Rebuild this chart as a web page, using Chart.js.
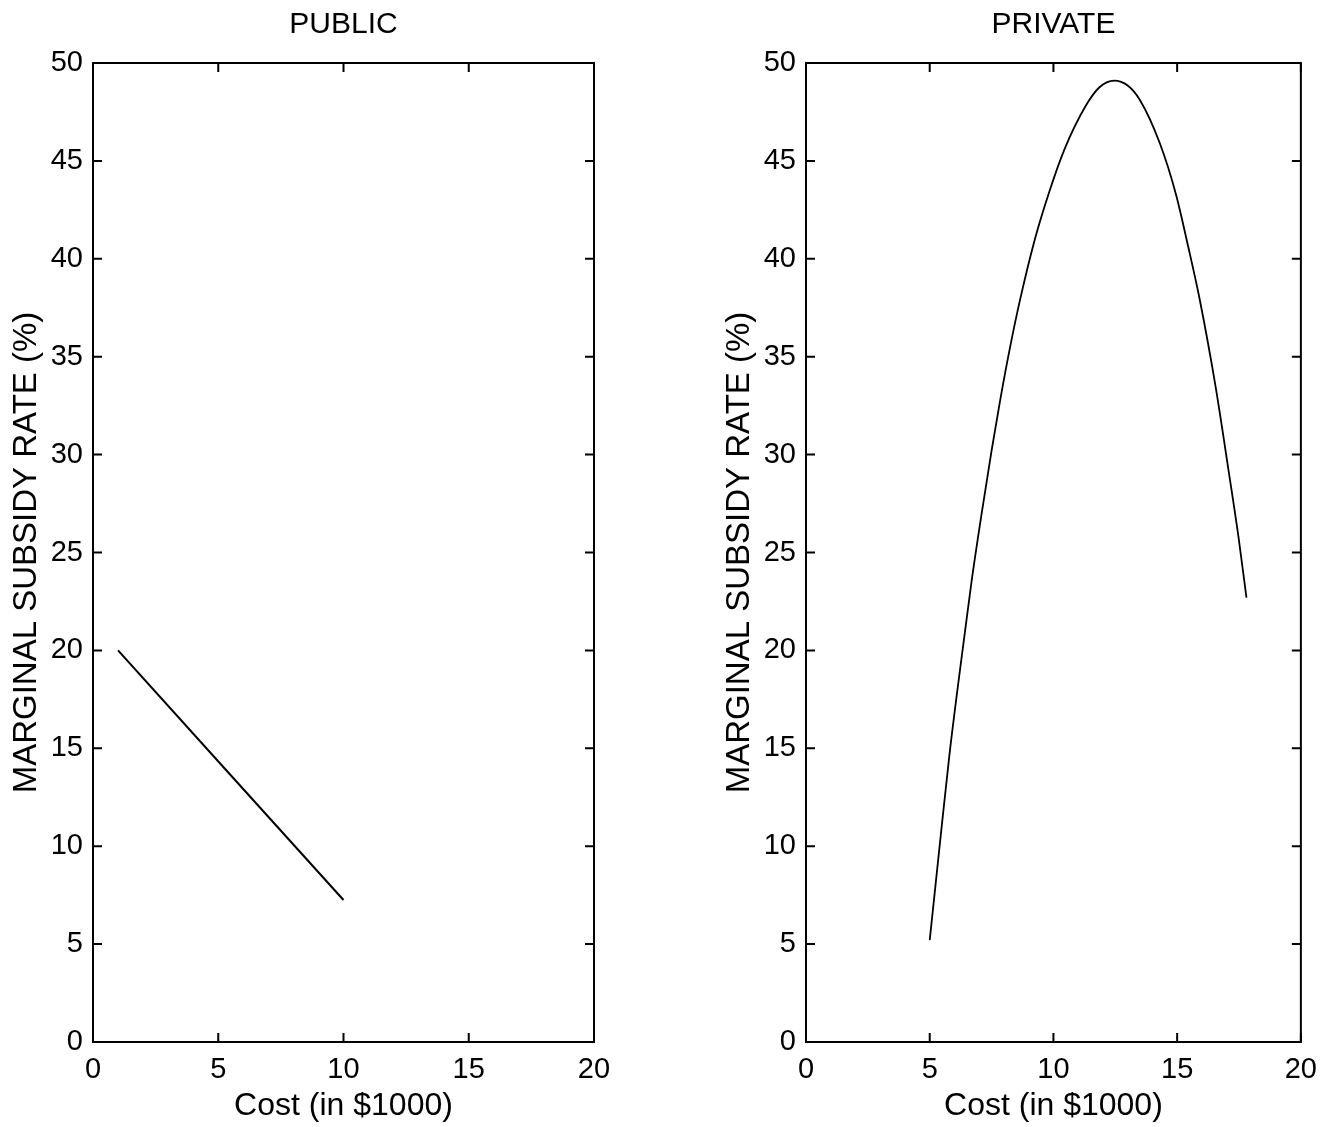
<!DOCTYPE html>
<html>
<head>
<meta charset="utf-8">
<title>Marginal subsidy rate</title>
<script src="https://cdn.jsdelivr.net/npm/chart.js@4.4.1/dist/chart.umd.min.js"></script>
<style>
    body{ margin:0; background:#fff; }
    canvas{ position:absolute; top:0; }
    #publicChart{ left:0; }
    #privateChart{ left:713px; }
</style>
</head>
<body>
<canvas id="publicChart" width="664" height="1127"></canvas>
<canvas id="privateChart" width="615" height="1127"></canvas>
<script>
// axis setup
let xTicks = [0, 5, 10, 15, 20];
let yTicks = [0, 5, 10, 15, 20, 25, 30, 35, 40, 45, 50];

// PUBLIC: straight line
let publicCost = [1, 10];
let publicRate = [20, 7.25];

// PRIVATE: curve
let privateCost = [5.0, 5.4, 5.8, 6.45, 6.7, 7.1, 7.5, 7.85, 8.25, 8.65, 9.25, 9.8, 10.45, 11.3, 11.85, 12.45, 13.0, 13.5, 14.3, 14.95, 15.45, 15.9, 16.55, 17.1, 17.5, 17.8];
let privateRate = [5.2, 10.0, 14.7, 21.2, 23.6, 27.0, 30.2, 32.8, 35.5, 37.9, 41.0, 43.3, 45.6, 47.8, 48.75, 49.1, 48.85, 48.1, 45.9, 43.3, 40.6, 38.0, 33.5, 29.0, 25.6, 22.7];

const FONT = "'Liberation Sans', Arial, Helvetica, sans-serif";

// box round the plot + inward tick marks on all four sides
const frameTicks = {
    id: 'frameTicks',
    afterDraw(chart){
        const ctx = chart.ctx;
        const a = chart.chartArea;
        const x = chart.scales.x;
        const y = chart.scales.y;
        const len = 9;
        ctx.save();
        ctx.strokeStyle = '#000';
        ctx.lineWidth = 2;
        ctx.strokeRect(a.left, a.top, a.right - a.left, a.bottom - a.top);
        ctx.beginPath();
        x.ticks.forEach(t => {
            let px = x.getPixelForValue(t.value);
            ctx.moveTo(px, a.bottom); ctx.lineTo(px, a.bottom - len);
            ctx.moveTo(px, a.top); ctx.lineTo(px, a.top + len);
        });
        y.ticks.forEach(t => {
            let py = y.getPixelForValue(t.value);
            ctx.moveTo(a.left, py); ctx.lineTo(a.left + len, py);
            ctx.moveTo(a.right, py); ctx.lineTo(a.right - len, py);
        });
        ctx.stroke();
        ctx.restore();
    }
};

function makePoints(xs, ys){
    let pts = [];
    for(let i=0;i<xs.length;i++){
        pts.push({x: xs[i], y: ys[i]});
    }
    return pts;
}

function drawPanel(id, title, xs, ys, lineW, rightPad){
    const ctx = document.getElementById(id).getContext('2d');
    return new Chart(ctx, {
        type: 'scatter',
        data: {
            datasets: [{
                data: makePoints(xs, ys),
                showLine: true,
                borderColor: '#000',
                borderWidth: lineW,
                pointRadius: 0,
                cubicInterpolationMode: 'monotone'
            }]
        },
        options: {
            responsive: false,
            animation: false,
            events: [],
            layout: { padding: { left: 0, right: rightPad, top: 0, bottom: 0 } },
            plugins: {
                legend: { display: false },
                tooltip: { enabled: false },
                title: {
                    display: true,
                    text: title,
                    fullSize: false,
                    color: '#000',
                    font: { family: FONT, size: 30, weight: 'normal' },
                    padding: { top: 7, bottom: 20 }
                }
            },
            scales: {
                x: {
                    type: 'linear',
                    min: 0, max: 20,
                    afterBuildTicks: s => { s.ticks = xTicks.map(v => ({value: v})); },
                    afterFit: s => { s.height = 85; },
                    grid: { display: false, drawTicks: false },
                    border: { display: false },
                    ticks: { color: '#000', padding: 11, maxRotation: 0, font: { family: FONT, size: 29 } },
                    title: {
                        display: true,
                        text: 'Cost (in $1000)',
                        color: '#000',
                        font: { family: FONT, size: 32 },
                        padding: { top: 0, bottom: 2 }
                    }
                },
                y: {
                    type: 'linear',
                    min: 0, max: 50,
                    afterBuildTicks: s => { s.ticks = yTicks.map(v => ({value: v})); },
                    afterFit: s => { s.width = 93; },
                    grid: { display: false, drawTicks: false },
                    border: { display: false },
                    ticks: { color: '#000', padding: 10, font: { family: FONT, size: 29 } },
                    title: {
                        display: true,
                        text: 'MARGINAL SUBSIDY RATE (%)',
                        color: '#000',
                        font: { family: FONT, size: 33 },
                        padding: { top: 7, bottom: 0 }
                    }
                }
            }
        },
        plugins: [frameTicks]
    });
}

window.onload = function(){
    drawPanel('publicChart', 'PUBLIC', publicCost, publicRate, 2, 70);
    drawPanel('privateChart', 'PRIVATE', privateCost, privateRate, 1.8, 22);
}
</script>
</body>
</html>
